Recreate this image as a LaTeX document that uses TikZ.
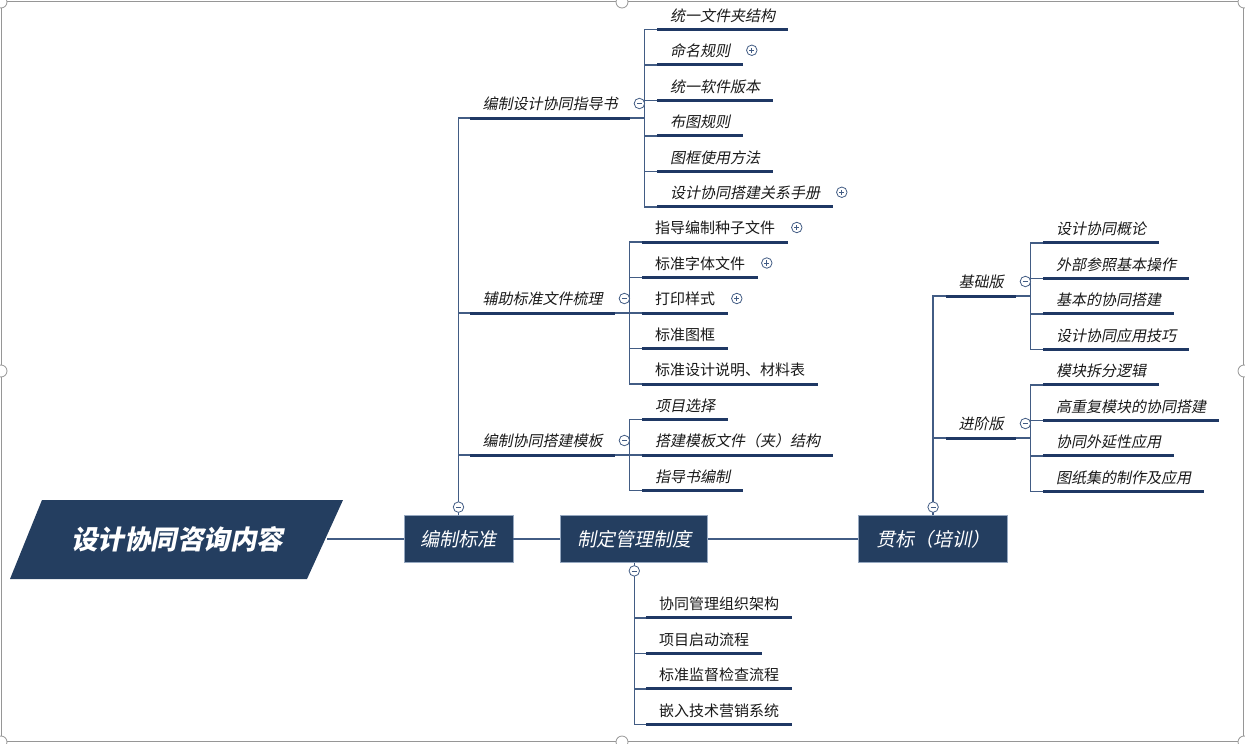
\documentclass[tikz,border=0pt]{standalone}
\usepackage{fontspec}
\newfontfamily\cjk{Noto Sans CJK SC}
\newfontfamily\cjkit[FakeSlant=0.2]{Noto Sans CJK SC}
\usetikzlibrary{positioning,calc}
\definecolor{boxblue}{RGB}{36,62,96}
\definecolor{barblue}{RGB}{31,56,100}
\definecolor{lineblue}{RGB}{66,92,132}
\definecolor{boxedge}{RGB}{150,168,192}
\definecolor{framegray}{RGB}{150,150,150}

\begin{document}
\begin{tikzpicture}[x=1pt, y=-1pt,
  mainbox/.style={fill=boxblue, draw=boxedge, line width=0.8pt, text=white, minimum height=47pt, inner xsep=16.5pt, font=\cjkit\fontsize{19pt}{22pt}\selectfont},
  leaf/.style={anchor=south west, inner xsep=12.5pt, inner ysep=6pt, text height=11pt, text depth=2pt, text=black!90, font=\cjk\fontsize{15pt}{18pt}\selectfont},
  leafit/.style={leaf, font=\cjkit\fontsize{15pt}{18pt}\selectfont},
  bar/.style={draw=barblue, line width=3pt},
  conn/.style={draw=lineblue, line width=1.5pt},
  fold/.style={circle, draw=lineblue, fill=white, line width=0.8pt, minimum size=10.5pt, inner sep=0pt},
  minus/.style={fold, path picture={\draw[lineblue, line width=0.8pt] ([xshift=-2.6pt]path picture bounding box.center) -- ([xshift=2.6pt]path picture bounding box.center);}},
  plus/.style={fold, path picture={\draw[lineblue, line width=0.8pt] ([xshift=-2.6pt]path picture bounding box.center) -- ([xshift=2.6pt]path picture bounding box.center) ([yshift=-2.6pt]path picture bounding box.center) -- ([yshift=2.6pt]path picture bounding box.center);}}
]
\useasboundingbox (0,0) rectangle (1245,744);
\draw[framegray, line width=1pt] (1,1.5) rectangle (1243.5,741.5);

% main row
\fill[boxblue] (10,579) -- (42,500) -- (343,500) -- (307,579) -- cycle;
\node[text=white, font=\cjkit\bfseries\fontsize{26.5pt}{30pt}\selectfont] (root) at (177,539) {设计协同咨询内容};
\coordinate (rootE) at (327,539);
\node[mainbox] (std) at (458.5,539) {编制标准};
\node[mainbox, right=47pt of std] (mgmt) {制定管理制度};
\node[mainbox, right=150pt of mgmt, minimum width=149pt] (train) {贯标（培训）};
\draw[conn] (rootE) -- (std);
\draw[conn] (std) -- (mgmt);
\draw[conn] (mgmt) -- (train);

% 编制标准
\node[leafit] (guide) at (470,118) {编制设计协同指导书};
\node[leafit] (files) at (470,313) {辅助标准文件梳理};
\node[leafit] (tmpl) at (470,455) {编制协同搭建模板};
\foreach \p in {guide,files,tmpl}{
  \draw[conn] (std.north) |- (\p.south west);
  \draw[bar] (\p.south west) -- (\p.south east);
}

\foreach \t [count=\i] in {统一文件夹结构,命名规则,统一软件版本,布图规则,图框使用方法,设计协同搭建关系手册}{
  \node[leafit] (guide\i) at ($(guide.south east)+(27,{(\i-3.5)*35.5})$) {\t};
  \draw[conn] (guide.south east) -- ++(14,0) |- (guide\i.south west);
  \draw[bar] (guide\i.south west) -- (guide\i.south east);
}
\foreach \t [count=\i] in {指导编制种子文件,标准字体文件,打印样式,标准图框,标准设计说明、材料表}{
  \node[leaf] (files\i) at ($(files.south east)+(27,{(\i-3)*35.5})$) {\t};
  \draw[conn] (files.south east) -- ++(14,0) |- (files\i.south west);
  \draw[bar] (files\i.south west) -- (files\i.south east);
}
\foreach \t [count=\i] in {项目选择,搭建模板文件（夹）结构,指导书编制}{
  \node[leafit] (tmpl\i) at ($(tmpl.south east)+(27,{(\i-2)*35.5})$) {\t};
  \draw[conn] (tmpl.south east) -- ++(14,0) |- (tmpl\i.south west);
  \draw[bar] (tmpl\i.south west) -- (tmpl\i.south east);
}

% 制定管理制度
\foreach \t [count=\i] in {协同管理组织架构,项目启动流程,标准监督检查流程,嵌入技术营销系统}{
  \node[leaf] (rule\i) at ($(mgmt.south)+(12,{55+(\i-1)*35.5})$) {\t};
  \draw[conn] (mgmt.south) |- (rule\i.south west);
  \draw[bar] (rule\i.south west) -- (rule\i.south east);
}

% 贯标（培训）
\node[leafit] (basic) at (946,296) {基础版};
\node[leafit] (adv) at (946,438) {进阶版};
\foreach \p in {basic,adv}{
  \draw[conn] (train.north) |- (\p.south west);
  \draw[bar] (\p.south west) -- (\p.south east);
}
\foreach \t [count=\i] in {设计协同概论,外部参照基本操作,基本的协同搭建,设计协同应用技巧}{
  \node[leafit] (basic\i) at ($(basic.south east)+(27,{(\i-2.5)*35.5})$) {\t};
  \draw[conn] (basic.south east) -- ++(14,0) |- (basic\i.south west);
  \draw[bar] (basic\i.south west) -- (basic\i.south east);
}
\foreach \t [count=\i] in {模块拆分逻辑,高重复模块的协同搭建,协同外延性应用,图纸集的制作及应用}{
  \node[leafit] (adv\i) at ($(adv.south east)+(27,{(\i-2.5)*35.5})$) {\t};
  \draw[conn] (adv.south east) -- ++(14,0) |- (adv\i.south west);
  \draw[bar] (adv\i.south west) -- (adv\i.south east);
}

% fold marks
\node[minus] (stdf) at ([yshift=8pt]std.north) {};
\node[minus] (mgmtf) at ([yshift=-8pt]mgmt.south) {};
\node[minus] (trainf) at ([yshift=8pt]train.north) {};
\foreach \p in {guide,files,tmpl,basic,adv}
  \node[minus] (\p f) at ($(\p.south east)+(9,-14.5)$) {};
\foreach \p in {guide2,guide6,files1,files2,files3}
  \node[plus] (\p p) at ($(\p.south east)+(9,-14.5)$) {};

% frame handles
\foreach \h in {(622,2),(622,742),(1,371),(1244,371),(1,2),(1244,2),(1,742),(1244,742)}
  \draw[framegray, fill=white, line width=0.8pt] \h circle (6);
\end{tikzpicture}
\end{document}
